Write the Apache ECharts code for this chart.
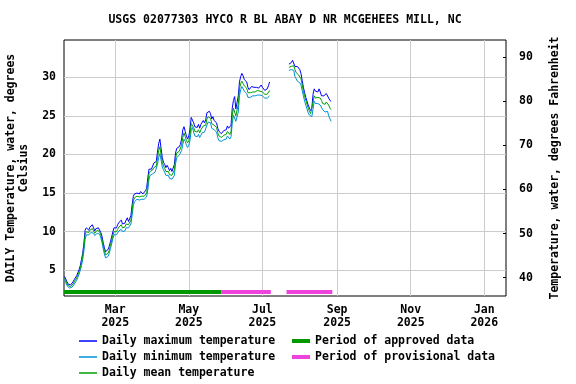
<!DOCTYPE html>
<html>
<head>
<meta charset="utf-8">
<script src="https://cdn.jsdelivr.net/npm/echarts@6/dist/echarts.min.js"></script>
<style>html,body{margin:0;padding:0;background:#fff}#c{width:576px;height:384px}</style>
</head>
<body>
<div id="c"></div>
<script>
// ---------- data ----------
const titleText = 'USGS 02077303 HYCO R BL ABAY D NR MCGEHEES MILL, NC';
const seg1Start = '2025-01-18';
const seg2Start = '2025-07-23';

const maxSeg1 = [4.2,4.0,3.5,3.2,3.1,3.1,3.3,3.5,3.8,4.0,4.3,4.7,5.1,5.6,6.4,7.2,8.5,10.2,10.5,10.4,10.2,10.6,10.7,10.9,10.5,10.1,10.4,10.6,10.5,10.3,9.9,9.4,8.6,7.9,7.4,7.2,7.7,8.1,8.7,9.3,10.0,10.5,10.6,10.5,10.9,11.2,11.0,11.5,11.0,10.8,11.1,11.5,11.8,11.3,11.5,12.1,13.5,14.6,14.9,14.9,15.0,14.8,14.9,15.2,15.0,14.9,15.0,15.3,15.6,17.0,18.1,18.3,18.1,18.5,18.9,18.7,19.1,20.3,21.4,22.0,20.8,19.6,19.0,18.7,18.3,18.6,18.3,17.9,18.2,17.8,17.8,18.7,20.2,20.8,20.9,21.0,21.3,22.0,23.2,23.6,23.0,22.4,22.0,22.4,23.3,24.8,24.9,24.1,23.6,23.4,23.5,23.9,23.4,23.9,24.1,24.4,24.1,24.5,25.4,25.6,25.6,25.3,24.6,24.9,24.4,24.6,24.1,23.4,23.0,22.8,22.7,22.9,23.1,22.9,23.2,23.7,23.4,23.2,23.8,26.0,27.0,27.5,25.9,25.8,27.6,29.4,30.1,30.5,30.2,29.7,29.8,29.4,28.7,28.4,28.6,28.8,28.7,28.7,28.6,28.7,28.9,28.6,28.7,29.0,28.7,28.5,28.3,28.2,28.5,28.9,29.4];
const minSeg1 = [3.8,3.4,3.0,2.8,2.7,2.7,2.8,3.0,3.2,3.4,3.7,4.1,4.5,5.0,5.6,6.4,7.5,9.0,9.6,9.8,9.6,9.8,9.9,10.0,9.8,9.5,9.6,9.8,9.9,9.7,9.2,8.6,7.8,7.1,6.6,6.5,6.8,7.2,7.8,8.4,9.1,9.6,9.8,9.6,9.8,10.1,10.0,10.3,10.0,9.9,10.1,10.5,10.7,10.5,10.5,11.0,12.1,13.4,13.9,14.1,14.2,14.0,14.1,14.3,14.2,14.1,14.2,14.3,14.5,15.4,16.8,17.3,17.1,17.5,17.7,17.7,17.9,18.7,19.6,20.1,19.3,18.4,18.0,17.7,17.3,17.4,17.3,16.9,17.0,16.8,16.7,17.3,18.8,19.6,19.8,19.9,20.0,20.5,21.3,22.0,21.7,21.2,20.9,21.2,21.8,23.2,23.5,22.9,22.4,22.2,22.3,22.6,22.2,22.5,22.8,23.0,22.9,23.1,23.8,24.2,24.4,24.1,23.4,23.5,23.2,23.2,22.9,22.2,21.8,21.7,21.7,21.8,21.9,21.8,22.0,22.4,22.2,22.0,22.3,24.0,25.1,24.9,24.3,24.3,25.5,27.6,28.4,28.8,28.6,28.2,28.3,27.9,27.4,27.2,27.4,27.6,27.6,27.7,27.6,27.6,27.7,27.6,27.7,27.8,27.6,27.5,27.3,27.2,27.3,27.4,27.6];
const meanSeg1 = [4.0,3.7,3.3,3.0,2.9,2.9,3.0,3.2,3.5,3.7,4.0,4.4,4.8,5.3,6.0,6.8,8.0,9.6,10.0,10.1,9.9,10.2,10.3,10.4,10.1,9.8,10.0,10.2,10.2,10.0,9.6,9.0,8.2,7.5,7.0,6.8,7.2,7.6,8.2,8.8,9.5,10.0,10.2,10.0,10.3,10.6,10.5,10.9,10.5,10.3,10.6,11.0,11.2,10.9,11.0,11.5,12.8,14.0,14.4,14.5,14.6,14.4,14.5,14.7,14.6,14.5,14.6,14.8,15.0,16.2,17.5,17.8,17.6,18.0,18.3,18.2,18.5,19.5,20.5,21.0,20.0,19.0,18.5,18.2,17.8,18.0,17.8,17.4,17.6,17.3,17.2,18.0,19.5,20.2,20.3,20.4,20.6,21.2,22.2,22.8,22.3,21.8,21.5,21.8,22.5,24.0,24.2,23.5,23.0,22.8,22.9,23.2,22.8,23.2,23.4,23.7,23.5,23.8,24.6,24.9,25.0,24.7,24.0,24.2,23.8,23.9,23.5,22.8,22.4,22.3,22.2,22.3,22.5,22.3,22.6,23.0,22.8,22.6,23.0,25.0,26.0,25.8,25.0,25.0,26.5,28.5,29.2,29.5,29.3,28.9,29.0,28.6,28.0,27.8,28.0,28.2,28.1,28.2,28.1,28.2,28.3,28.1,28.2,28.4,28.1,28.0,27.8,27.7,27.8,28.0,28.3];

const maxSeg2 = [31.7,31.8,31.9,32.2,32.0,31.4,31.3,31.4,31.2,31.0,30.5,29.6,28.7,28.0,27.4,26.9,26.4,26.0,25.7,26.0,27.8,28.5,28.2,28.3,28.1,28.5,28.1,27.6,27.4,27.6,27.4,27.9,27.8,27.3,27.0,26.9];
const minSeg2 = [30.9,30.8,31.0,31.0,30.9,30.1,29.8,29.5,29.4,29.3,29.0,28.3,27.6,26.9,26.4,25.9,25.4,25.1,24.9,24.9,25.9,26.9,26.6,26.8,26.6,26.7,26.4,26.2,25.8,25.9,25.5,25.4,25.6,25.0,24.6,24.3];
const meanSeg2 = [31.3,31.2,31.4,31.5,31.5,31.0,30.6,30.5,30.3,30.2,29.8,29.0,28.2,27.5,27.0,26.5,26.0,25.6,25.3,25.4,26.8,27.6,27.3,27.5,27.4,27.6,27.3,27.0,26.6,26.8,26.5,26.8,26.9,26.4,26.0,25.8];

// data-status periods [start, end]
const approvedPeriods = [['2025-01-17', '2025-05-28']];
const provisionalPeriods = [['2025-05-28', '2025-07-08'], ['2025-07-21', '2025-08-28']];

// axes
const xMin = '2025-01-17T12:00:00';
const xMax = '2026-01-19T00:00:00';
const xTickDates = ['2025-03-01', '2025-05-01', '2025-07-01', '2025-09-01', '2025-11-01', '2026-01-01'];
const xTickLabels = ['Mar\n2025', 'May\n2025', 'Jul\n2025', 'Sep\n2025', 'Nov\n2025', 'Jan\n2026'];
const cTicks = [5, 10, 15, 20, 25, 30];
const fTicks = [40, 50, 60, 70, 80, 90];

// ---------- build ----------
const DAY = 86400000;
function ts(s) { return new Date(s.length > 10 ? s : s + 'T00:00:00').getTime(); }
function buildSeries(a, b) {
  const out = [];
  const t1 = ts(seg1Start), t2 = ts(seg2Start);
  a.forEach((v, i) => out.push([t1 + i * DAY, v]));
  out.push([t1 + a.length * DAY, null]);
  b.forEach((v, i) => out.push([t2 + i * DAY, v]));
  return out;
}
const xTickTs = xTickDates.map(ts);

const FONT = 'DejaVu Sans Mono';
const txt = { fontFamily: FONT, fontSize: 11.5, fontWeight: 'bold', color: '#000' };

function periodSeries(name, periods, color) {
  return {
    name, type: 'custom', xAxisIndex: 0, yAxisIndex: 0,
    itemStyle: { color },
    encode: { x: [0, 1] },
    data: periods.map(p => [ts(p[0]), ts(p[1])]),
    renderItem(params, api) {
      const s = api.coord([api.value(0), 10]);
      const e = api.coord([api.value(1), 10]);
      const cs = params.coordSys;
      const x0 = Math.max(s[0], cs.x), x1 = Math.min(e[0], cs.x + cs.width);
      return { type: 'rect', shape: { x: x0, y: cs.y + cs.height - 6, width: x1 - x0, height: 4 }, style: { fill: color } };
    },
    z: 1
  };
}

const chart = echarts.init(document.getElementById('c'), null, { renderer: 'canvas' });
chart.setOption({
  animation: false,
  backgroundColor: '#fff',
  title: { text: titleText, left: 285, textAlign: 'center', top: 14, padding: 0, textStyle: Object.assign({}, txt) },
  grid: { left: 64, right: 70, top: 40, bottom: 88, show: true, borderColor: '#000', borderWidth: 1,
          backgroundColor: 'transparent', containLabel: false, outerBoundsMode: 'none' },
  legend: [
    { data: ['Daily maximum temperature', 'Daily minimum temperature', 'Daily mean temperature'],
      orient: 'vertical', left: 79, top: 334, height: 60, padding: 0, icon: 'rect', itemWidth: 18, itemHeight: 1.5, itemGap: 2,
      textStyle: Object.assign({ lineHeight: 14 }, txt), selectedMode: false },
    { data: ['Period of approved data', 'Period of provisional data'],
      orient: 'vertical', left: 292, top: 334, height: 60, padding: 0, icon: 'rect', itemWidth: 18, itemHeight: 4, itemGap: 2,
      textStyle: Object.assign({ lineHeight: 14 }, txt), selectedMode: false }
  ],
  xAxis: {
    type: 'value', min: ts(xMin), max: ts(xMax),
    axisLine: { show: false },
    axisTick: { show: false, customValues: xTickTs },
    splitLine: { show: true, lineStyle: { color: '#cccccc', width: 1 } },
    axisLabel: {
      customValues: xTickTs, margin: 8, lineHeight: 13,
      formatter: v => { const i = xTickTs.indexOf(v); return i >= 0 ? xTickLabels[i] : ''; },
      fontFamily: FONT, fontSize: 11.5, fontWeight: 'bold', color: '#000'
    }
  },
  yAxis: [
    { type: 'value', min: 1.67, max: 34.83, position: 'left',
      name: 'DAILY Temperature, water, degrees\nCelsius', nameLocation: 'middle', nameRotate: 90, nameGap: 33,
      nameTextStyle: Object.assign({ lineHeight: 13, align: 'center' }, txt),
      axisLine: { show: false },
      axisTick: { show: false, customValues: cTicks },
      splitLine: { show: true, lineStyle: { color: '#cccccc', width: 1 } },
      axisLabel: { customValues: cTicks, margin: 8, fontFamily: FONT, fontSize: 11.5, fontWeight: 'bold', color: '#000' } },
    { type: 'value', min: 35.86, max: 93.85, position: 'right',
      name: 'Temperature, water, degrees Fahrenheit', nameLocation: 'middle', nameRotate: 90, nameGap: 43,
      nameTextStyle: Object.assign({}, txt),
      axisLine: { show: false },
      axisTick: { show: true, inside: true, length: 3, customValues: fTicks, lineStyle: { color: '#000' } },
      splitLine: { show: false },
      axisLabel: { customValues: fTicks, margin: 13, fontFamily: FONT, fontSize: 11.5, fontWeight: 'bold', color: '#000' } }
  ],
  series: [
    { name: 'Daily maximum temperature', type: 'line', data: buildSeries(maxSeg1, maxSeg2), showSymbol: false, symbol: 'none',
      connectNulls: false, lineStyle: { color: '#0000ff', width: 1 }, itemStyle: { color: '#0000ff' }, z: 3 },
    { name: 'Daily minimum temperature', type: 'line', data: buildSeries(minSeg1, minSeg2), showSymbol: false, symbol: 'none',
      connectNulls: false, lineStyle: { color: '#0090d8', width: 1 }, itemStyle: { color: '#0090d8' }, z: 3 },
    { name: 'Daily mean temperature', type: 'line', data: buildSeries(meanSeg1, meanSeg2), showSymbol: false, symbol: 'none',
      connectNulls: false, lineStyle: { color: '#00a000', width: 1 }, itemStyle: { color: '#00a000' }, z: 3 },
    periodSeries('Period of approved data', approvedPeriods, '#009900'),
    periodSeries('Period of provisional data', provisionalPeriods, '#ee44dd')
  ]
});
</script>
</body>
</html>
